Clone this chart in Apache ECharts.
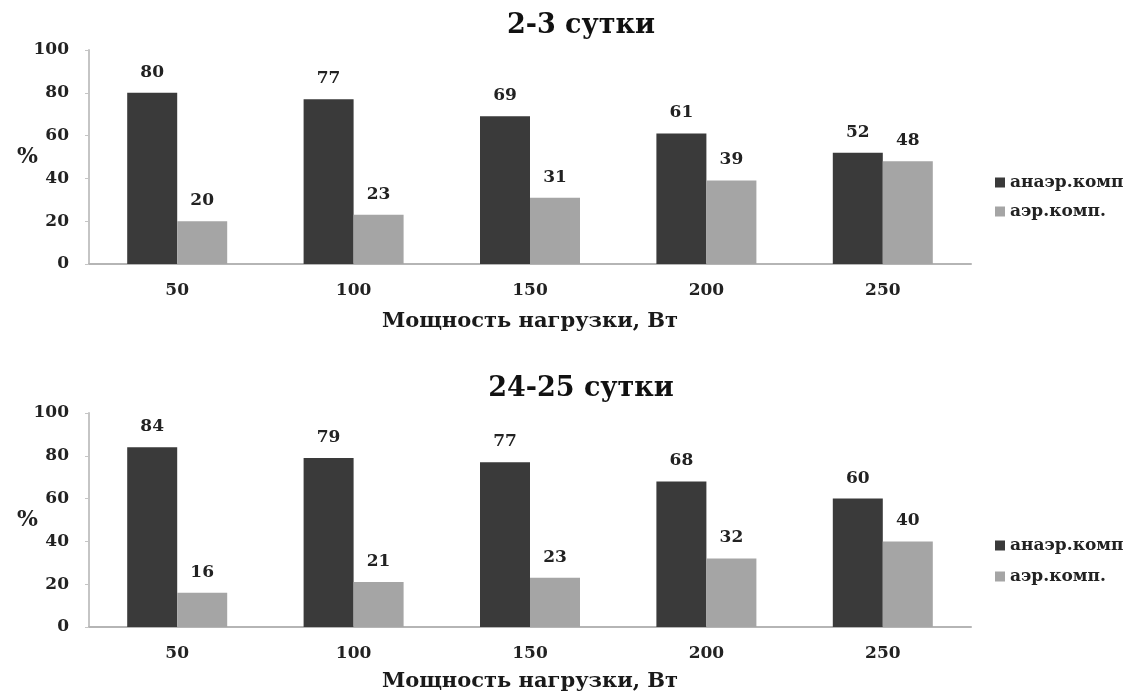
<!DOCTYPE html>
<html><head><meta charset="utf-8">
<script src="https://cdn.jsdelivr.net/npm/echarts@6/dist/echarts.min.js"></script>
<style>html,body{margin:0;padding:0;background:#fff}#c{width:1135px;height:694px}</style>
</head><body><div id="c"></div>
<script>
const categories = ['50','100','150','200','250'];
const titles = ['2-3 сутки','24-25 сутки'];
const seriesNames = ['анаэр.комп','аэр.комп.'];
const anaer1 = [80,77,69,61,52];
const aer1 = [20,23,31,39,48];
const anaer2 = [84,79,77,68,60];
const aer2 = [16,21,23,32,40];
const yTicks = [0,20,40,60,80,100];
const xName = 'Мощность нагрузки, Вт';
const yName = '%';

const FONT = '"DejaVu Serif", "Liberation Serif", serif';
const DARK = '#3a3a3a', LIGHT = '#a5a5a5';
const tops = [50, 413];
const grids = tops.map(t => ({left:89, width:882, top:t, height:214}));

function xAxis(i){return {type:'category', gridIndex:i, data:categories,
  axisLine:{lineStyle:{color:'#b5b5b5', width:2}}, axisTick:{show:false},
  axisLabel:{color:'#222', fontFamily:FONT, fontWeight:'bold', fontSize:17, margin:18},
  name:xName, nameLocation:'middle', nameGap:[47,44][i], nameMoveOverlap:false,
  nameTextStyle:{color:'#1a1a1a', fontFamily:FONT, fontWeight:'bold', fontSize:21}};}
function yAxis(i){return {type:'value', gridIndex:i, min:yTicks[0], max:yTicks[yTicks.length-1], interval:20,
  axisLine:{show:true, lineStyle:{color:'#c5c5c5', width:2}}, axisTick:{show:true, length:4, lineStyle:{color:'#c5c5c5'}}, splitLine:{show:false},
  axisLabel:{color:'#222', fontFamily:FONT, fontWeight:'bold', fontSize:17, margin:20},
  name:yName, nameLocation:'middle', nameRotate:0, nameGap:51, nameMoveOverlap:false,
  nameTextStyle:{color:'#222', fontFamily:FONT, fontWeight:'bold', fontSize:22}};}
function bar(i, name, data, color){return {type:'bar', name:name, xAxisIndex:i, yAxisIndex:i, data:data,
  barWidth:50, barGap:'0%', itemStyle:{color:color},
  label:{show:true, position:'top', distance:12, color:'#222', fontFamily:FONT, fontWeight:'bold', fontSize:17}};}

const chart = echarts.init(document.getElementById('c'));
chart.setOption({
  animation:false,
  title: titles.map((t,i)=>({text:t, left:576, textAlign:'center', top:[7,370][i],
    textStyle:{color:'#111', fontFamily:FONT, fontWeight:'bold', fontSize:27}})),
  legend: [0,1].map(i=>({orient:'vertical', left:995, top:[174,537][i], itemWidth:10, itemHeight:10, itemGap:[12,14][i],
    icon:'rect', data:seriesNames.map(n=>n+(i?' ':'')), padding:0,
    textStyle:{color:'#222', fontFamily:FONT, fontWeight:'bold', fontSize:17}})),
  grid: grids,
  xAxis: [xAxis(0), xAxis(1)],
  yAxis: [yAxis(0), yAxis(1)],
  series: [bar(0, seriesNames[0], anaer1, DARK), bar(0, seriesNames[1], aer1, LIGHT),
           bar(1, seriesNames[0]+' ', anaer2, DARK), bar(1, seriesNames[1]+' ', aer2, LIGHT)]
});
</script></body></html>
